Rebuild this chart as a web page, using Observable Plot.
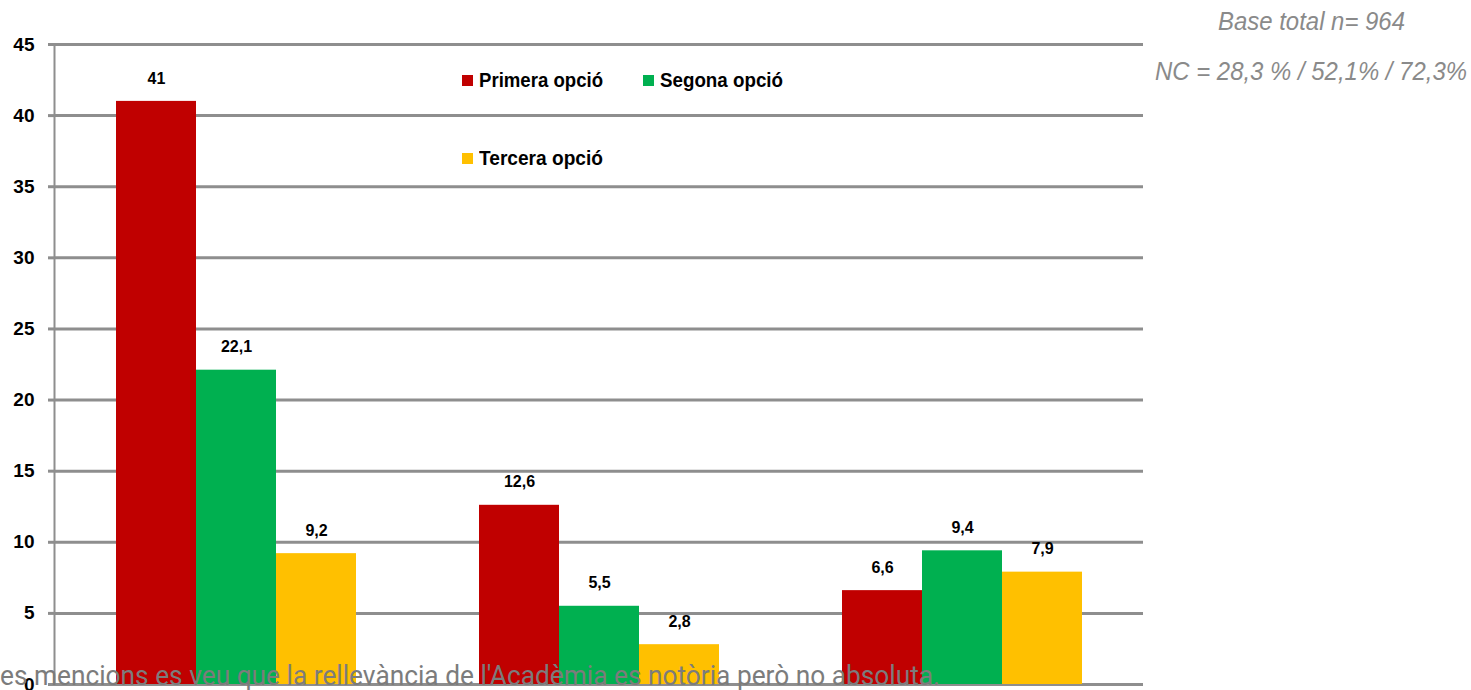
<!DOCTYPE html>
<html><head><meta charset="utf-8">
<script src="https://cdn.jsdelivr.net/npm/d3@7"></script>
<script src="https://cdn.jsdelivr.net/npm/@observablehq/plot@0.6"></script>
<style>
body{margin:0;background:#fff;}
#wrap{position:relative;width:1471px;height:690px;overflow:hidden;font-family:"Liberation Sans",Arial,sans-serif;}
#chart{position:absolute;left:0;top:0;}
#legend{position:absolute;left:462px;top:62px;display:grid;grid-template-columns:181px 181px;grid-auto-rows:78px;}
.item{display:flex;align-items:center;height:36px;font-family:"Liberation Sans",Arial,sans-serif;font-weight:bold;font-size:21px;color:#000;white-space:nowrap;}
.item .lab{display:inline-block;transform-origin:left center;}
.sw{width:11px;height:11px;margin-right:6px;flex:none;}
.note{position:absolute;font-family:"Liberation Sans",Arial,sans-serif;font-style:italic;color:#8a8a8a;font-size:25px;white-space:nowrap;transform-origin:left top;}
#foot{position:absolute;left:0;top:659px;font-family:Roboto,sans-serif;font-size:28px;color:#7c7c7c;white-space:nowrap;transform-origin:left top;}
</style></head><body>
<div id="wrap"><div id="chart"></div><div id="legend"></div></div>
<script>
const categories = ["Grup 1", "Grup 2", "Grup 3"];
const seriesNames = ["Primera opció", "Segona opció", "Tercera opció"];
const primera = [41, 12.6, 6.6];
const segona = [22.1, 5.5, 9.4];
const tercera = [9.2, 2.8, 7.9];
const yTicks = [0, 5, 10, 15, 20, 25, 30, 35, 40, 45];
const colors = ["#C00000", "#00B050", "#FFC000"];
const notes = ["Base total n= 964", "NC = 28,3 % / 52,1% / 72,3%"];
const footnote = "es mencions es veu que la rellevància de l'Acadèmia es notòria però no absoluta.";

const seriesValues = [primera, segona, tercera];
const data = categories.flatMap((c, i) => seriesNames.map((s, j) => ({category: c, series: s, value: seriesValues[j][i]})));
const fmt = v => String(v).replace(".", ",");
const grid = "#8e8e8e";

const chart = Plot.plot({
  width: 1471, height: 690,
  marginLeft: 53, marginRight: 328, marginTop: 44, marginBottom: 6,
  style: {background: "transparent", overflow: "visible"},
  fx: {domain: categories, padding: 0, axis: null},
  x: {domain: seriesNames, paddingInner: 0, paddingOuter: 0.742, axis: null},
  y: {domain: [0, 45], axis: null},
  color: {domain: seriesNames, range: colors},
  marks: [
    Plot.ruleY(yTicks, {stroke: grid, strokeWidth: 3}),
    Plot.frame({anchor: "left", stroke: grid, strokeWidth: 2, facetAnchor: "left"}),
    Plot.barY(data, {fx: "category", x: "series", y: "value", fill: "series"}),
    Plot.text(data, {fx: "category", x: "series", y: "value", text: d => fmt(d.value), dy: -23,
      fontWeight: "bold", fontSize: 16, fontFamily: "'Liberation Sans',Arial,sans-serif", fill: "#000"}),
    Plot.axisY({ticks: yTicks, label: null, tickSize: 6, tickPadding: 14, fontSize: 19, fontWeight: "bold",
      fontFamily: "'Liberation Sans',Arial,sans-serif", stroke: grid, strokeWidth: 3, fill: "#000"})
  ]
});
document.getElementById("chart").appendChild(chart);

const fitWidth = (el, target) => {
  const w = el.getBoundingClientRect().width;
  el.style.transform = `scaleX(${target / w})`;
};

const legend = document.getElementById("legend");
const legendWidths = [124, 123, 124];
seriesNames.forEach((s, i) => {
  const it = document.createElement("div");
  it.className = "item";
  it.innerHTML = `<span class="sw" style="background:${colors[i]}"></span><span class="lab">${s}</span>`;
  legend.appendChild(it);
  fitWidth(it.querySelector(".lab"), legendWidths[i]);
});
const wrap = document.getElementById("wrap");
const notePos = [{x: 1218, y: 7, w: 187}, {x: 1155, y: 57, w: 312}];
notes.forEach((t, i) => {
  const n = document.createElement("div");
  n.className = "note";
  n.textContent = t;
  n.style.left = notePos[i].x + "px";
  n.style.top = notePos[i].y + "px";
  wrap.appendChild(n);
  fitWidth(n, notePos[i].w);
});
const f = document.createElement("div");
f.id = "foot";
f.textContent = footnote;
wrap.appendChild(f);
fitWidth(f, 940);
</script>
</body></html>
